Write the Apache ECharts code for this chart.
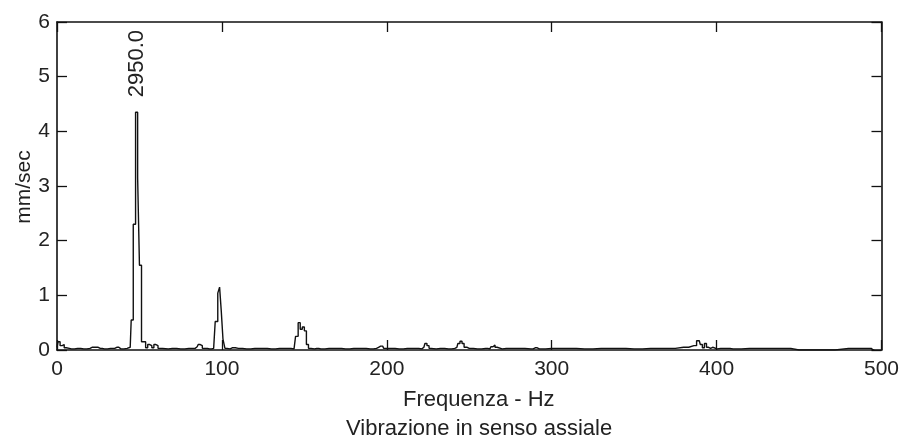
<!DOCTYPE html>
<html>
<head>
<meta charset="utf-8">
<script src="https://cdn.jsdelivr.net/npm/echarts@6/dist/echarts.min.js"></script>
<style>
html,body{margin:0;padding:0;background:#fff;}
#chart{width:902px;height:441px;}
</style>
</head>
<body>
<div id="chart"></div>
<script>
// Frequency (Hz) and amplitude (mm/sec)
var freqHz = [0, 1.25, 2.5, 3.75, 5, 6.25, 8.75, 12.5, 16.25, 20, 21.25, 22.5, 23.75, 25, 26.25, 28.75, 32.5, 35, 36.25, 37.5, 38.75, 42.5, 44.4,
  45.6, 46.9, 48.4, 49.4, 50.6, 51.9, 53.1, 54.4, 55.6, 56.9, 58.1, 59.4, 60.6, 61.9, 63.1, 65, 70, 75, 80, 83.75, 85, 86.25, 87.5, 88.75, 90, 92.5, 95,
  96.9, 98.1, 99.1, 100.1, 101.2, 102.5, 103.75, 106.25, 110, 115, 120, 125, 130, 135, 140, 143.75,
  145.6, 146.9, 148.1, 149.4, 150.6, 151.9, 153.1, 155, 157.5, 160, 165, 170, 175, 180, 185, 190, 193.75, 195, 196.25, 197.5, 198.75, 202.5, 207.5, 212.5, 217.5, 221.25,
  222.5, 223.75, 225, 226.25, 227.5, 232.5, 237.5, 241.25, 242.5, 243.75, 245, 246.25, 247.5, 250, 255, 260, 262.5, 263.75, 265, 266.25, 267.5, 272.5, 280, 287.5, 290, 292.5, 300, 310, 320, 330, 340, 350, 360, 370, 380, 386.25,
  389.5, 390.75, 392, 393.25, 394.5, 395.75, 397, 398.25, 402.5, 406.25, 410, 420, 430, 440, 450, 462.5, 463.75, 480, 493.75, 495, 496.25, 500];
var ampMm = [0.05, 0.15, 0.08, 0.1, 0.04, 0.03, 0.02, 0.03, 0.02, 0.03, 0.05, 0.05, 0.05, 0.05, 0.03, 0.02, 0.03, 0.03, 0.05, 0.05, 0.02, 0.03, 0.05,
  0.55, 2.3, 4.35, 3.15, 1.55, 0.15, 0.15, 0.04, 0.1, 0.08, 0.04, 0.1, 0.08, 0.03, 0.03, 0.02, 0.03, 0.02, 0.03, 0.03, 0.06, 0.1, 0.08, 0.03, 0.03, 0.02, 0.03,
  0.52, 1.04, 1.15, 0.72, 0.2, 0.03, 0.02, 0.04, 0.03, 0.02, 0.03, 0.03, 0.02, 0.03, 0.03, 0.02,
  0.25, 0.5, 0.38, 0.42, 0.35, 0.1, 0.03, 0.02, 0.03, 0.02, 0.03, 0.03, 0.02, 0.03, 0.03, 0.02, 0.03, 0.05, 0.07, 0.07, 0.03, 0.03, 0.02, 0.03, 0.03, 0.02,
  0.05, 0.12, 0.08, 0.03, 0.02, 0.03, 0.02, 0.03, 0.05, 0.12, 0.16, 0.12, 0.05, 0.03, 0.02, 0.03, 0.02, 0.06, 0.09, 0.05, 0.02, 0.03, 0.03, 0.02, 0.04, 0.02, 0.03, 0.03, 0.02, 0.03, 0.03, 0.02, 0.03, 0.03,
  0.05, 0.08, 0.17, 0.1, 0.04, 0.12, 0.05, 0.03, 0.05, 0.02, 0.03, 0.03, 0.02, 0.03, 0.03, 0.03, 0.0, 0.0, 0.0, 0.03, 0.03, 0.0];
var xTicks = [0, 100, 200, 300, 400, 500];
var yTicks = [0, 1, 2, 3, 4, 5, 6];
var peakLabel = '2950.0';
var xTitle = 'Frequenza - Hz';
var subTitle = 'Vibrazione in senso assiale';
var yTitle = 'mm/sec';

var seriesData = freqHz.map(function (f, i) { return [f, ampMm[i]]; });
var peakIdx = ampMm.indexOf(Math.max.apply(null, ampMm));

var font = 'Liberation Sans, Arial, sans-serif';
var txtColor = '#222';
var axisLine = { show: true, onZero: false, lineStyle: { color: '#111', width: 1.6 } };
var tick = { show: true, inside: true, length: 10, lineStyle: { color: '#111', width: 1.3 } };

var chart = echarts.init(document.getElementById('chart'), null, { renderer: 'canvas' });
chart.setOption({
  backgroundColor: '#fff',
  animation: false,
  grid: { left: 57, right: 19, top: 22, bottom: 91 },
  xAxis: [{
    type: 'value', position: 'bottom', min: xTicks[0], max: xTicks[xTicks.length - 1], interval: 100,
    axisLine: axisLine, axisTick: tick, splitLine: { show: false },
    axisLabel: { fontFamily: font, fontSize: 21, color: txtColor, margin: 9 }
  }, {
    type: 'value', position: 'top', min: xTicks[0], max: xTicks[xTicks.length - 1], interval: 100,
    axisLine: axisLine, axisTick: tick, splitLine: { show: false }, axisLabel: { show: false }
  }],
  yAxis: [{
    type: 'value', position: 'left', min: yTicks[0], max: yTicks[yTicks.length - 1], interval: 1,
    axisLine: axisLine, axisTick: tick, splitLine: { show: false },
    axisLabel: { fontFamily: font, fontSize: 21, color: txtColor, margin: 7 }
  }, {
    type: 'value', position: 'right', min: yTicks[0], max: yTicks[yTicks.length - 1], interval: 1,
    axisLine: axisLine, axisTick: tick, splitLine: { show: false }, axisLabel: { show: false }
  }],
  graphic: [{
    type: 'text', left: 479 - 76, top: 389,
    style: { text: xTitle, font: '22px ' + font, fill: txtColor }
  }, {
    type: 'text', left: 479 - 133, top: 418,
    style: { text: subTitle, font: '22px ' + font, fill: txtColor }
  }, {
    type: 'text', x: 24, y: 187, rotation: Math.PI / 2,
    style: { text: yTitle, font: '21px ' + font, fill: txtColor, align: 'center', verticalAlign: 'middle' }
  }],
  series: [{
    type: 'line',
    xAxisIndex: 0, yAxisIndex: 0,
    step: 'middle',
    showSymbol: false,
    symbol: 'none',
    lineStyle: { color: '#111', width: 1.4 },
    data: seriesData,
    markPoint: {
      symbol: 'circle', symbolSize: 0,
      data: [{ coord: seriesData[peakIdx] }],
      label: {
        show: true, formatter: peakLabel, position: 'top', distance: 15,
        rotate: 90, align: 'left', verticalAlign: 'middle',
        fontFamily: font, fontSize: 22, color: txtColor
      }
    }
  }]
});
</script>
</body>
</html>
